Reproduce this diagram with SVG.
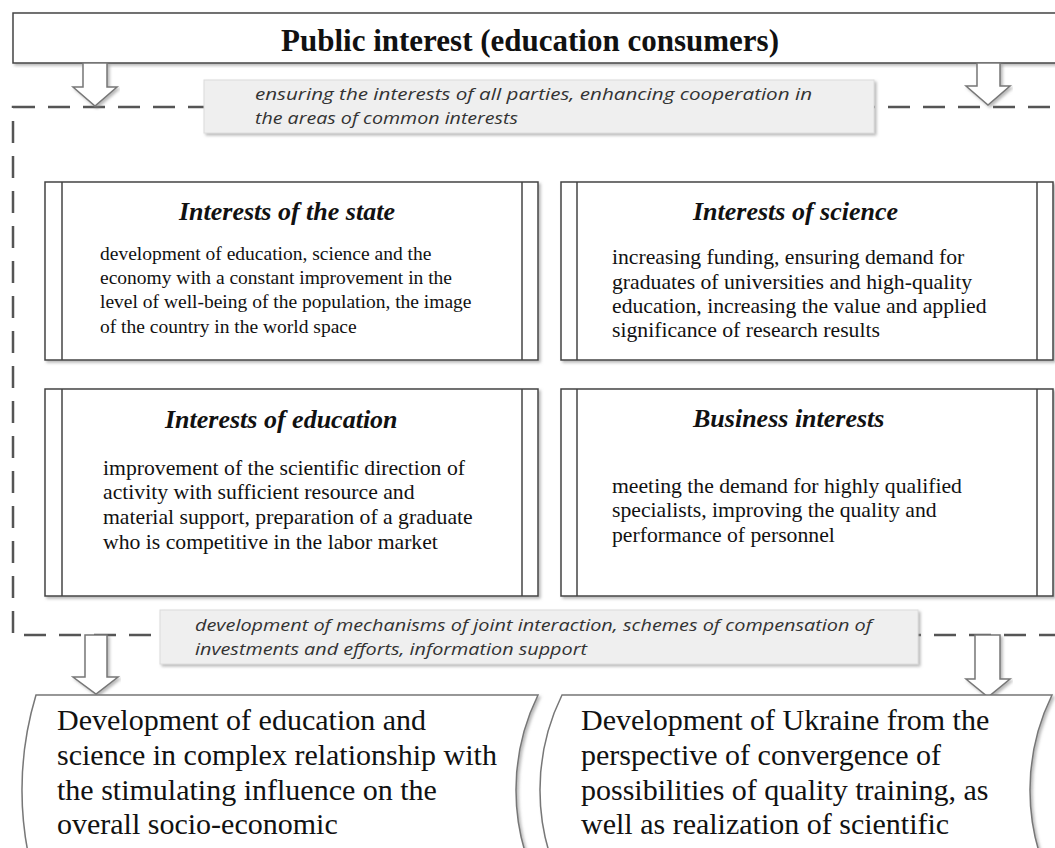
<svg xmlns="http://www.w3.org/2000/svg" width="1055" height="848" viewBox="0 0 1055 848">
<defs>
<filter id="sh" x="-5%" y="-5%" width="110%" height="115%">
<feDropShadow dx="2" dy="2" stdDeviation="1.5" flood-color="#888" flood-opacity="0.6"/>
</filter>
<style>
.box{fill:#fff;stroke:#444;stroke-width:1.5;filter:url(#sh)}
.inner{stroke:#444;stroke-width:1.5;fill:none}
.lbl{fill:#efefef;stroke:#dcdcdc;stroke-width:1;filter:url(#sh)}
.lt{font-family:"Open Sans","Liberation Sans",sans-serif;font-style:italic;font-size:16.5px;fill:#333}
.ttl{font-family:"Liberation Serif","Times New Roman",serif;font-weight:bold;font-style:italic;font-size:26px;fill:#111}
.b1{font-family:"Liberation Serif","Times New Roman",serif;font-size:19.5px;fill:#111}
.b2{font-family:"Liberation Serif","Times New Roman",serif;font-size:21.7px;fill:#111}
.big{font-family:"Liberation Serif","Times New Roman",serif;font-size:30px;fill:#111}
.arr{fill:#fff;stroke:#777;stroke-width:1.5;stroke-linejoin:miter;filter:url(#sh)}
.dash{fill:none;stroke:#555;stroke-width:2.5;stroke-dasharray:22 13}
.shape{fill:#fff;stroke:#777;stroke-width:1.5;filter:url(#sh)}
</style>
</defs>
<rect width="1055" height="848" fill="#fff"/>

<g id="connectors">
<rect class="dash" x="13" y="107" width="1100" height="528"/>
</g>

<g id="public-interest">
<rect class="box" x="13" y="13" width="1060" height="50"/>
<text x="530" y="51" text-anchor="middle" font-family="'Liberation Serif','Times New Roman',serif" font-weight="bold" font-size="31" fill="#111">Public interest (education consumers)</text>
</g>

<g id="arrows">
<polygon class="arr" points="83,63 107,63 107,87 117,87 95,106 73,87 83,87"/>
<polygon class="arr" points="977,63 1000,63 1000,86 1010,86 988,105 966,86 977,86"/>
<polygon class="arr" points="85,635 107,635 107,677 118,677 96,694 73,677 85,677"/>
<polygon class="arr" points="975,635 1000,635 1000,679 1010,679 988,697 966,679 975,679"/>
</g>

<g id="label-top">
<rect class="lbl" x="204" y="80" width="670" height="53"/>
<text class="lt" x="255" y="100" textLength="557" lengthAdjust="spacingAndGlyphs">ensuring the interests of all parties, enhancing cooperation in</text>
<text class="lt" x="255" y="124" textLength="263" lengthAdjust="spacingAndGlyphs">the areas of common interests</text>
</g>

<g id="state">
<rect class="box" x="45" y="182" width="493" height="178"/>
<line class="inner" x1="62" y1="182" x2="62" y2="360"/>
<line class="inner" x1="522" y1="182" x2="522" y2="360"/>
<text class="ttl" x="179" y="220">Interests of the state</text>
<text class="b1" x="100" y="260">development of education, science and the</text>
<text class="b1" x="100" y="284">economy with a constant improvement in the</text>
<text class="b1" x="100" y="308">level of well-being of the population, the image</text>
<text class="b1" x="100" y="333">of the country in the world space</text>
</g>

<g id="science">
<rect class="box" x="561" y="182" width="492" height="178"/>
<line class="inner" x1="577" y1="182" x2="577" y2="360"/>
<line class="inner" x1="1037" y1="182" x2="1037" y2="360"/>
<text class="ttl" x="693" y="220">Interests of science</text>
<text class="b2" x="612" y="264">increasing funding, ensuring demand for</text>
<text class="b2" x="612" y="289">graduates of universities and high-quality</text>
<text class="b2" x="612" y="313">education, increasing the value and applied</text>
<text class="b2" x="612" y="337">significance of research results</text>
</g>

<g id="education">
<rect class="box" x="45" y="389" width="493" height="207"/>
<line class="inner" x1="62" y1="389" x2="62" y2="596"/>
<line class="inner" x1="522" y1="389" x2="522" y2="596"/>
<text class="ttl" x="165" y="428">Interests of education</text>
<text class="b2" x="103" y="475">improvement of the scientific direction of</text>
<text class="b2" x="103" y="499">activity with sufficient resource and</text>
<text class="b2" x="103" y="524">material support, preparation of a graduate</text>
<text class="b2" x="103" y="549">who is competitive in the labor market</text>
</g>

<g id="business">
<rect class="box" x="561" y="389" width="492" height="207"/>
<line class="inner" x1="577" y1="389" x2="577" y2="596"/>
<line class="inner" x1="1037" y1="389" x2="1037" y2="596"/>
<text class="ttl" x="693" y="427">Business interests</text>
<text class="b2" x="612" y="493">meeting the demand for highly qualified</text>
<text class="b2" x="612" y="517">specialists, improving the quality and</text>
<text class="b2" x="612" y="542">performance of personnel</text>
</g>

<g id="label-bottom">
<rect class="lbl" x="160" y="610" width="758" height="54"/>
<text class="lt" x="195" y="631" textLength="677" lengthAdjust="spacingAndGlyphs">development of mechanisms of joint interaction, schemes of compensation of</text>
<text class="lt" x="195" y="655" textLength="392" lengthAdjust="spacingAndGlyphs">investments and efforts, information support</text>
</g>

<g id="outcome-left">
<path class="shape" d="M36,695 L538,695 A216,216 0 0 0 538,885 L36,885 A329,329 0 0 1 36,695 Z"/>
<text class="big" x="57" y="730">Development of education and</text>
<text class="big" x="57" y="765">science in complex relationship with</text>
<text class="big" x="57" y="800">the stimulating influence on the</text>
<text class="big" x="57" y="834">overall socio-economic</text>
</g>

<g id="outcome-right">
<path class="shape" d="M562,695 L1052,695 A216,216 0 0 0 1052,885 L562,885 A216,216 0 0 1 562,695 Z"/>
<text class="big" x="581" y="730">Development of Ukraine from the</text>
<text class="big" x="581" y="765">perspective of convergence of</text>
<text class="big" x="581" y="800">possibilities of quality training, as</text>
<text class="big" x="581" y="834">well as realization of scientific</text>
</g>
</svg>
